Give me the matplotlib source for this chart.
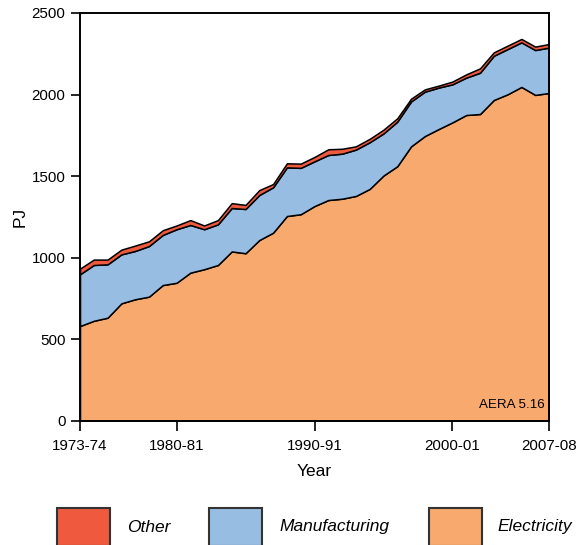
import matplotlib
matplotlib.use("Agg")
import matplotlib.pyplot as plt
from matplotlib.patches import Rectangle
import numpy as np

plt.rcParams['font.family'] = ['Liberation Sans', 'DejaVu Sans']

# Financial years 1973-74 .. 2007-08
years = [f"{y}-{str(y + 1)[-2:]}" for y in range(1973, 2008)]

electricity = [582, 614, 633, 721, 746, 762, 833, 847, 909, 930,
               956, 1039, 1028, 1109, 1154, 1256, 1267, 1317, 1354, 1362,
               1379, 1422, 1504, 1561, 1683, 1746, 1789, 1830, 1875, 1881,
               1967, 2002, 2047, 1998, 2010]
manufacturing = [317, 342, 327, 300, 296, 310, 307, 328, 292, 245,
                 249, 266, 271, 276, 278, 298, 284, 274, 276, 276,
                 284, 286, 258, 273, 275, 272, 254, 233, 229, 253,
                 271, 277, 273, 275, 278]
other = [35, 33, 29, 29, 33, 29, 29, 23, 30, 23,
         26, 30, 25, 30, 20, 25, 26, 27, 35, 30,
         20, 21, 23, 21, 17, 14, 12, 17, 20, 27,
         21, 21, 21, 21, 22]

tick_labels = ["1973-74", "1980-81", "1990-91", "2000-01", "2007-08"]
y_ticks = [0, 500, 1000, 1500, 2000, 2500]

colors = {"Electricity": "#F8AA6E", "Manufacturing": "#98BDE3", "Other": "#EF5A3F"}

W, H = 577, 545
fig = plt.figure(figsize=(W / 100, H / 100), dpi=100)
ax = fig.add_axes([80 / W, (H - 421) / H, (549 - 80) / W, (421 - 13) / H])

x = np.arange(len(years))
ax.stackplot(x, electricity, manufacturing, other,
             colors=[colors["Electricity"], colors["Manufacturing"], colors["Other"]],
             edgecolor="black", linewidth=1.1)

ax.set_xlim(0, len(years) - 1)
ax.set_ylim(0, 2500)
ax.set_xticks([years.index(t) for t in tick_labels])
ax.set_xticklabels(tick_labels)
ax.set_yticks(y_ticks)
ax.tick_params(axis="both", direction="out", width=1.2,
               labelsize=10.9, colors="black")
ax.tick_params(axis="x", length=7, pad=6)
ax.tick_params(axis="y", length=6.5, pad=4)
for s in ax.spines.values():
    s.set_linewidth(1.4)
    s.set_color("black")

ax.set_xlabel("Year", fontsize=12.5, labelpad=8)
ax.set_ylabel("PJ", fontsize=12.5, labelpad=3)

ax.text(0.99, 0.025, "AERA 5.16", transform=ax.transAxes,
        ha="right", va="bottom", fontsize=9.6)

# Legend row along the bottom edge
legend_items = [("Other", 57, 127), ("Manufacturing", 209, 279), ("Electricity", 429, 497)]
for name, px, tx in legend_items:
    fig.add_artist(Rectangle((px / W, (H - 546) / H), 53 / W, 38 / H,
                             transform=fig.transFigure,
                             facecolor=colors[name], edgecolor="#333333",
                             linewidth=1.5, clip_on=False))
    fig.text(tx / W, (H - 527) / H, name, fontsize=12.5, style="italic",
             ha="left", va="center")

fig.savefig("out.png", dpi=100)
